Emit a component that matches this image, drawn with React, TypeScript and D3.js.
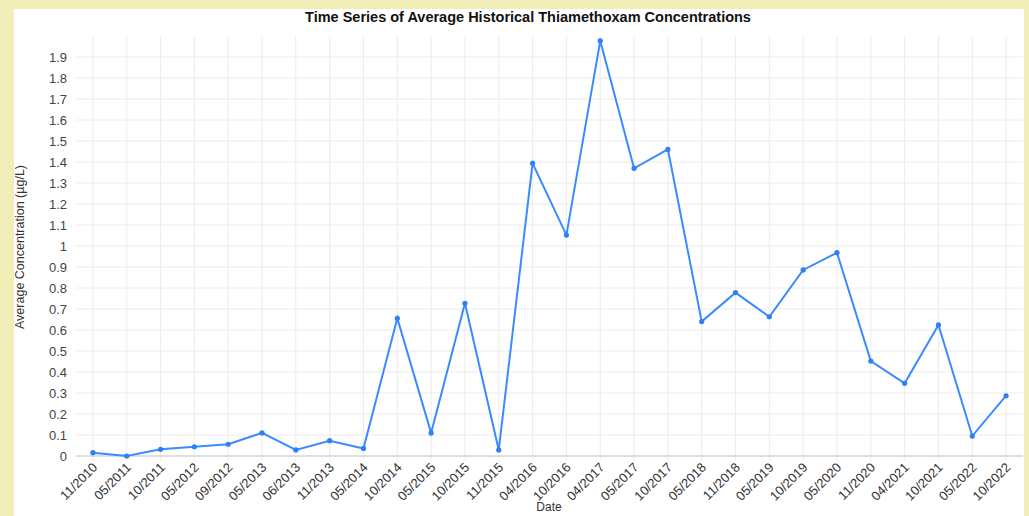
import React from "react";
import * as d3 from "d3";

const dates = [
  "11/2010", "05/2011", "10/2011", "05/2012", "09/2012", "05/2013", "06/2013",
  "11/2013", "05/2014", "10/2014", "05/2015", "10/2015", "11/2015", "04/2016",
  "10/2016", "04/2017", "05/2017", "10/2017", "05/2018", "11/2018", "05/2019",
  "10/2019", "05/2020", "11/2020", "04/2021", "10/2021", "05/2022", "10/2022",
];
const concentrations = [
  0.016, 0.0, 0.032, 0.044, 0.056, 0.11, 0.029,
  0.073, 0.036, 0.656, 0.11, 0.727, 0.029, 1.394,
  1.052, 1.977, 1.37, 1.46, 0.64, 0.778, 0.663,
  0.886, 0.968, 0.452, 0.346, 0.624, 0.095, 0.287,
];
const yTicks = d3.range(0, 20).map((i) => Math.round(i * 10) / 100);
const yTickLabels = yTicks.map((t) => String(t));

const W = 1029;
const H = 516;
const plot = { left: 76, right: 1023, top: 36, bottom: 456 };
const font = "'Liberation Sans', Arial, sans-serif";

export default function App() {
  const x = d3.scaleBand<string>().domain(dates).range([plot.left, plot.right]);
  const cx = (d: string) => (x(d) as number) + x.bandwidth() / 2;
  const y = d3.scaleLinear().domain([0, 2]).range([plot.bottom, plot.top]);
  const line = d3
    .line<number>()
    .x((_, i) => cx(dates[i]))
    .y((v) => y(v));

  return (
    <svg
      width={W}
      height={H}
      style={{ position: "absolute", left: 0, top: 0, display: "block" }}
      fontFamily={font}
    >
      <rect x={0} y={0} width={W} height={H} fill="#f2eeb8" />
      <rect x={14} y={9} width={1010} height={H} fill="#ffffff" />
      <text
        x={528}
        y={22}
        textAnchor="middle"
        fontSize={14.5}
        fontWeight="bold"
        fill="#111"
      >
        Time Series of Average Historical Thiamethoxam Concentrations
      </text>
      {/* grid */}
      {yTicks.map((t) => (
        <line
          key={"h" + t}
          x1={plot.left}
          x2={plot.right}
          y1={y(t)}
          y2={y(t)}
          stroke="#ececec"
          strokeWidth={1}
        />
      ))}
      {dates.map((d) => (
        <line
          key={"v" + d}
          x1={cx(d)}
          x2={cx(d)}
          y1={plot.top}
          y2={plot.bottom + 5}
          stroke="#ececec"
          strokeWidth={1}
        />
      ))}
      <line
        x1={plot.left}
        x2={plot.right}
        y1={plot.bottom}
        y2={plot.bottom}
        stroke="#c8c8c8"
        strokeWidth={1}
      />
      {/* y tick labels */}
      {yTicks.map((t, i) => (
        <text
          key={"yl" + t}
          x={67}
          y={y(t)}
          dy="0.35em"
          textAnchor="end"
          fontSize={13}
          fill="#444"
        >
          {yTickLabels[i]}
        </text>
      ))}
      {/* x tick labels */}
      {dates.map((d) => (
        <text
          key={"xl" + d}
          transform={`translate(${cx(d) + 2},${plot.bottom + 9}) rotate(-45)`}
          textAnchor="end"
          dy="0.35em"
          fontSize={13}
          fill="#333"
        >
          {d}
        </text>
      ))}
      <text
        transform={`translate(24,247) rotate(-90)`}
        textAnchor="middle"
        fontSize={12.5}
        fill="#333"
      >
        Average Concentration (µg/L)
      </text>
      <text x={549} y={511} textAnchor="middle" fontSize={12} fill="#333">
        Date
      </text>
      <path
        d={line(concentrations) || ""}
        fill="none"
        stroke="#3a8bff"
        strokeWidth={2}
      />
      {concentrations.map((v, i) => (
        <circle key={"p" + i} cx={cx(dates[i])} cy={y(v)} r={2.6} fill="#2f7ff5" />
      ))}
    </svg>
  );
}
